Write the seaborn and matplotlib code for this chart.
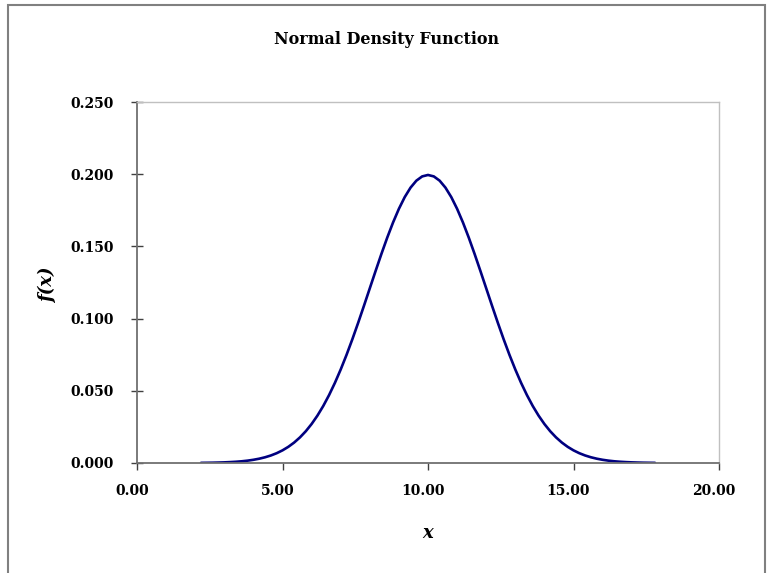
import matplotlib
matplotlib.use("Agg")
import matplotlib.pyplot as plt
import matplotlib.transforms as mtransforms
import seaborn as sns
import pandas as pd
from matplotlib.patches import Rectangle
from matplotlib.ticker import FormatStrFormatter

# Sampled points of the density curve
x_values = [2.2, 2.4, 2.6, 2.8, 3.0, 3.2, 3.4, 3.6, 3.8, 4.0, 4.2, 4.4, 4.6,
            4.8, 5.0, 5.2, 5.4, 5.6, 5.8, 6.0, 6.2, 6.4, 6.6, 6.8, 7.0, 7.2,
            7.4, 7.6, 7.8, 8.0, 8.2, 8.4, 8.6, 8.8, 9.0, 9.2, 9.4, 9.6, 9.8,
            10.0, 10.2, 10.4, 10.6, 10.8, 11.0, 11.2, 11.4, 11.6, 11.8, 12.0,
            12.2, 12.4, 12.6, 12.8, 13.0, 13.2, 13.4, 13.6, 13.8, 14.0, 14.2,
            14.4, 14.6, 14.8, 15.0, 15.2, 15.4, 15.6, 15.8, 16.0, 16.2, 16.4,
            16.6, 16.8, 17.0, 17.2, 17.4, 17.6, 17.8]
fx_values = [0.00010, 0.00015, 0.00021, 0.00031, 0.00044, 0.00062, 0.00086,
             0.00119, 0.00163, 0.00222, 0.00298, 0.00396, 0.00521, 0.00679,
             0.00876, 0.01120, 0.01416, 0.01774, 0.02199, 0.02700, 0.03281,
             0.03947, 0.04703, 0.05546, 0.06476, 0.07486, 0.08568, 0.09709,
             0.10893, 0.12099, 0.13304, 0.14485, 0.15613, 0.16661, 0.17603,
             0.18414, 0.19069, 0.19552, 0.19847, 0.19947,
             0.19847, 0.19552, 0.19069, 0.18414, 0.17603, 0.16661, 0.15613,
             0.14485, 0.13304, 0.12099, 0.10893, 0.09709, 0.08568, 0.07486,
             0.06476, 0.05546, 0.04703, 0.03947, 0.03281, 0.02700, 0.02199,
             0.01774, 0.01416, 0.01120, 0.00876, 0.00679, 0.00521, 0.00396,
             0.00298, 0.00222, 0.00163, 0.00119, 0.00086, 0.00062, 0.00044,
             0.00031, 0.00021, 0.00015, 0.00010]

x_ticks = [0.0, 5.0, 10.0, 15.0, 20.0]
y_ticks = [0.000, 0.050, 0.100, 0.150, 0.200, 0.250]

title_text = "Normal Density Function"
x_label = "x"
y_label = "f(x)"

df = pd.DataFrame({"x": x_values, "fx": fx_values})

sns.set_theme(style="white")
plt.rcParams["font.family"] = ["DejaVu Serif", "Liberation Serif"]
plt.rcParams["text.color"] = "black"
plt.rcParams["axes.labelcolor"] = "black"
plt.rcParams["xtick.labelcolor"] = "black"
plt.rcParams["ytick.labelcolor"] = "black"

fig = plt.figure(figsize=(7.73, 5.73), dpi=100)
ax = fig.add_axes([137 / 773, 1 - 463 / 573, (719 - 137) / 773, (463 - 102) / 573])

sns.lineplot(data=df, x="x", y="fx", ax=ax, color="#000080", linewidth=1.9)

ax.set_xlim(0, 20)
ax.set_ylim(0, 0.25)
ax.set_xticks(x_ticks)
ax.set_yticks(y_ticks)
ax.xaxis.set_major_formatter(FormatStrFormatter("%.2f"))
ax.yaxis.set_major_formatter(FormatStrFormatter("%.3f"))

ax.tick_params(axis="x", direction="out", length=5, width=1, color="#404040",
               labelcolor="black", pad=10, bottom=True)
ax.tick_params(axis="y", direction="inout", length=9, width=1, color="#404040",
               labelcolor="black", pad=12, left=True)

# x tick labels sit slightly left of their ticks
shift = mtransforms.ScaledTranslation(-5 / 100, 0, fig.dpi_scale_trans)
for lbl in ax.get_xticklabels():
    lbl.set_transform(lbl.get_transform() + shift)
for lbl in ax.get_xticklabels() + ax.get_yticklabels():
    lbl.set_fontweight("bold")
    lbl.set_fontsize(10)

for side in ("left", "bottom"):
    ax.spines[side].set_color("#707070")
    ax.spines[side].set_linewidth(1.3)
for side in ("top", "right"):
    ax.spines[side].set_color("#c0c0c0")
    ax.spines[side].set_linewidth(1.0)

ax.set_xlabel(x_label, fontsize=13, fontweight="bold", style="italic", color="black")
ax.set_ylabel(y_label, fontsize=13, fontweight="bold", style="italic", color="black")
ax.xaxis.set_label_coords(428 / 773, 1 - 533 / 573, transform=fig.transFigure)
ax.yaxis.set_label_coords(48 / 773, 1 - 285 / 573, transform=fig.transFigure)
ax.xaxis.label.set_va("center")
ax.yaxis.label.set_va("center")

fig.text(387 / 773, 1 - 40 / 573, title_text, ha="center", va="center",
         fontsize=11.5, fontweight="bold", color="black")

# Outer chart frame
fig.patches.append(Rectangle((8 / 773, -0.02), (765 - 8) / 773, 1 - 5 / 573 + 0.02,
                             transform=fig.transFigure, fill=False,
                             edgecolor="#808080", linewidth=1.5))

fig.savefig("out.png", dpi=100)
